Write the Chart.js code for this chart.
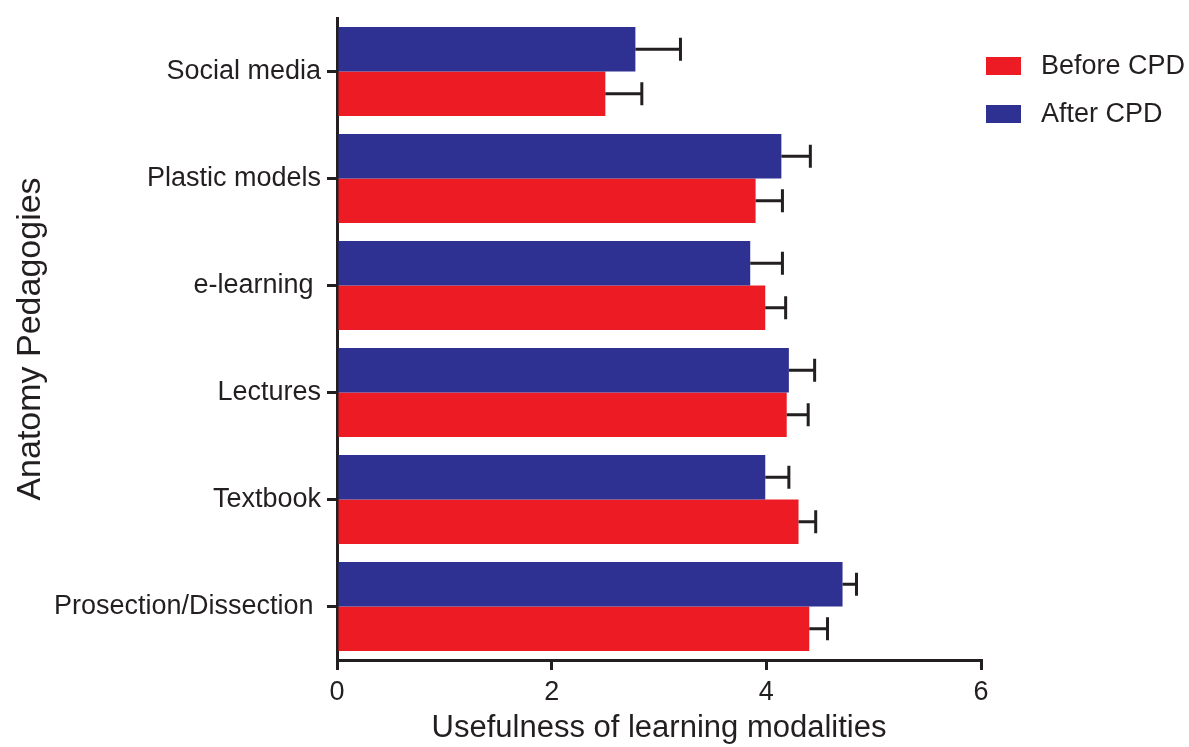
<!DOCTYPE html>
<html>
<head>
<meta charset="utf-8">
<script src="https://cdn.jsdelivr.net/npm/chart.js@4.4.1/dist/chart.umd.min.js"></script>
<style>
  html, body { margin:0; padding:0; background:#fff; }
  #wrap { width:1189px; height:747px; position:relative; }
</style>
</head>
<body>
<div id="wrap"><canvas id="c" width="1189" height="747"></canvas></div>
<script>
/* Usefulness of anatomy teaching modalities, before vs after CPD (mean + SEM) */
const categories = ["Social media", "Plastic models", "e-learning ", "Lectures", "Textbook", "Prosection/Dissection "];
const afterCPD     = [2.78, 4.14, 3.85, 4.21, 3.99, 4.71];
const afterCPDErr  = [0.42, 0.27, 0.30, 0.24, 0.22, 0.13];
const beforeCPD    = [2.50, 3.90, 3.99, 4.19, 4.30, 4.40];
const beforeCPDErr = [0.34, 0.25, 0.19, 0.20, 0.16, 0.17];
const xTicks = [0, 2, 4, 6];

const C = { red:"#ED1C24", blue:"#2E3192", ink:"#231F20" };
const FONT = "'Liberation Sans', Arial, sans-serif";

// one-sided error bars: stem from the bar end, cap at mean + err
const errorBars = {
  id: "errorBars",
  afterDatasetsDraw(chart){
    const { ctx, scales:{ x } } = chart;
    ctx.save();
    ctx.strokeStyle = C.ink;
    ctx.lineWidth = 3;
    ctx.lineCap = "butt";
    chart.data.datasets.forEach((ds, i) => {
      const meta = chart.getDatasetMeta(i);
      meta.data.forEach((bar, j) => {
        const x0 = bar.x;
        const x1 = x.getPixelForValue(ds.data[j] + ds.err[j]);
        const y = bar.y;
        ctx.beginPath();
        ctx.moveTo(x0, y); ctx.lineTo(x1, y);
        ctx.moveTo(x1, y - 11.5); ctx.lineTo(x1, y + 11.5);
        ctx.stroke();
      });
    });
    ctx.restore();
  }
};

// legend in the top right, Before first
const sideLegend = {
  id: "sideLegend",
  afterDraw(chart){
    const { ctx } = chart;
    const items = chart.data.datasets.slice().reverse();
    ctx.save();
    ctx.font = "27px " + FONT;
    ctx.textBaseline = "middle";
    items.forEach((ds, k) => {
      const y = 57 + k * 48;
      ctx.fillStyle = ds.backgroundColor;
      ctx.fillRect(986, y, 35, 18);
      ctx.fillStyle = C.ink;
      ctx.fillText(ds.label, 1041, y + 10);
    });
    ctx.restore();
  }
};

new Chart(document.getElementById("c"), {
  type: "bar",
  data: {
    labels: categories,
    datasets: [
      { label:"After CPD",  data:afterCPD,  err:afterCPDErr,  backgroundColor:C.blue },
      { label:"Before CPD", data:beforeCPD, err:beforeCPDErr, backgroundColor:C.red }
    ]
  },
  options: {
    indexAxis: "y",
    responsive: false,
    animation: false,
    categoryPercentage: 0.83,
    barPercentage: 1.0,
    layout: { padding:{ left:0, right:208, top:18, bottom:0 } },
    plugins: { legend:{ display:false }, tooltip:{ enabled:false } },
    scales: {
      x: {
        min: 0, max: 6,
        afterBuildTicks: s => { s.ticks = xTicks.map(v => ({ value:v })); },
        afterFit: s => { s.height = 87; },
        border: { display:true, color:C.ink, width:3 },
        grid: { drawOnChartArea:false, drawTicks:true, tickLength:10, color:C.ink, lineWidth:3 },
        ticks: { color:C.ink, padding:6, font:{ family:FONT, size:27 } },
        title: { display:true, text:"Usefulness of learning modalities", color:C.ink,
                 font:{ family:FONT, size:31 }, padding:{ top:6, bottom:0 } }
      },
      y: {
        afterFit: s => { s.width = 337; s.paddingTop = 0; s.paddingBottom = 0; },
        border: { display:true, color:C.ink, width:3 },
        grid: { offset:false, drawOnChartArea:false, drawTicks:true, tickLength:10, color:C.ink, lineWidth:3 },
        ticks: { color:C.ink, padding:6, font:{ family:FONT, size:27 } },
        title: { display:true, text:"Anatomy Pedagogies", color:C.ink,
                 font:{ family:FONT, size:34 }, padding:{ top:10, bottom:0 } }
      }
    }
  },
  plugins: [errorBars, sideLegend]
});
</script>
</body>
</html>
